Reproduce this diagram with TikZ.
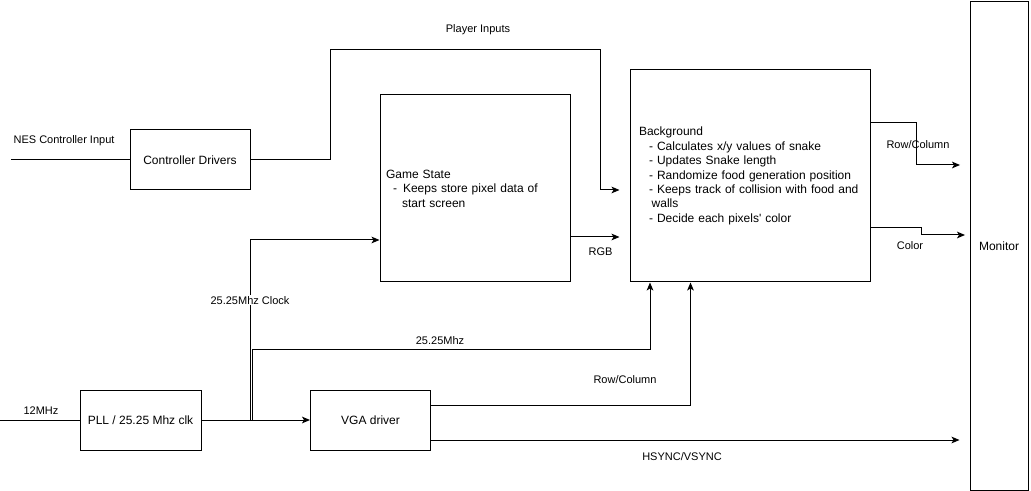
\documentclass[tikz,border=0pt]{standalone}
\usepackage{fontspec}
\setmainfont{Liberation Sans}
\usetikzlibrary{arrows.meta}
\begin{document}
\begin{tikzpicture}[x=0.75pt,y=-0.75pt,
	box/.style={draw,line width=0.75pt,inner sep=0pt,font=\fontsize{9}{10.8}\selectfont},
	wire/.style={line width=0.75pt},
	tip/.style={-{Stealth[length=6pt,width=5pt,inset=1.5pt]}},
	lbl/.style={font=\fontsize{8.25}{10}\selectfont,inner sep=1pt}]
	\useasboundingbox (0,0) rectangle (1031,491);
	% blocks
	\node[box,minimum width=90pt,minimum height=45pt] (ctrl) at (190,160) {Controller Drivers};
	\node[box,minimum width=142.5pt,minimum height=140.25pt,align=left,text width=133.5pt,inner xsep=4.5pt] (game) at (475,188.5)
		{Game State\\ \hspace*{5.25pt}-\hspace*{4.5pt}Keeps store pixel data of\\ \hspace*{12pt}start screen};
	\node[box,minimum width=180pt,minimum height=159pt,align=left,text width=166.5pt,inner xsep=6.75pt] (bg) at (750,176)
		{Background\\
		\hspace*{7.5pt}- Calculates x/y values of snake\\
		\hspace*{7.5pt}- Updates Snake length\\
		\hspace*{7.5pt}- Randomize food generation position\\
		\hspace*{7.5pt}- Keeps track of collision with food and\\
		\hspace*{9.5pt}walls\\
		\hspace*{7.5pt}- Decide each pixels\textquotesingle{} color};
	\node[box,minimum width=43.5pt,minimum height=366pt] (mon) at (999,246) {Monitor};
	\node[box,minimum width=90.75pt,minimum height=45pt] (pll) at (140.5,420) {PLL / 25.25 Mhz clk};
	\node[box,minimum width=90pt,minimum height=45pt] (vga) at (370.5,420) {VGA driver};
	\coordinate (nesin) at (11,160);
	\coordinate (clkin) at (0,420);
	% inputs
	\draw[wire] (nesin) -- (ctrl.west);
	\node[lbl,anchor=west] (neslbl) at (12,140.5) {NES Controller Input};
	\draw[wire] (clkin) -- (pll.west);
	\node[lbl] (clklbl) at (41,410.5) {12MHz};
	% player inputs
	\draw[wire,tip,shorten >=7.5pt] (ctrl.east) -- ++(80,0) |- (600,50) |- (bg.west |- 0,190);
	\node[lbl] (plbl) at (478,30) {Player Inputs};
	% clock
	\draw[wire,tip] (pll.east) -- (vga.west);
	\draw[wire,tip] (pll.east -| 250,0) |- (game.west |- 0,240)
		node[lbl,pos=0.333,fill=white] {25.25Mhz Clock};
	\draw[wire,tip] (pll.east -| 252,0) |- (650,350) -- (bg.south -| 650,0);
	\node[lbl] (mhzlbl) at (440,340.5) {25.25Mhz};
	% game state to background
	\draw[wire,tip,shorten >=7.5pt] (game.east |- 0,237) -- (bg.west |- 0,237);
	\node[lbl] (rgblbl) at (600.5,251.5) {RGB};
	% vga driver
	\draw[wire,tip] (vga.east |- 0,405.5) -| (bg.south -| 690.5,0);
	\node[lbl] (rclbl) at (625,380) {Row/Column};
	\draw[wire,tip,shorten >=7.5pt] (vga.east |- 0,440) -- (mon.west |- 0,440);
	\node[lbl] (hvlbl) at (682,456.5) {HSYNC/VSYNC};
	% to monitor
	\draw[wire,tip] (bg.east |- 0,123) -- ++(46,0) |- (960,165);
	\node[lbl] (rclbl2) at (918,145) {Row/Column};
	\draw[wire,tip] (bg.east |- 0,228) -- ++(51,0) |- (965,235);
	\node[lbl] (collbl) at (910,245.5) {Color};
\end{tikzpicture}
\end{document}
